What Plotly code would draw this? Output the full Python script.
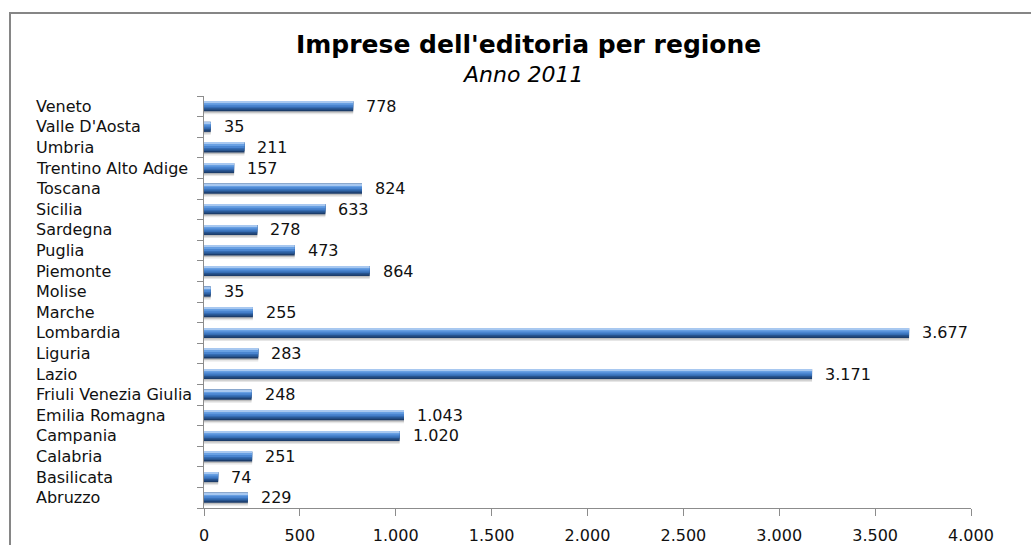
import plotly.graph_objects as go

# Imprese dell'editoria per regione, anno 2011
regioni = [
    "Abruzzo", "Basilicata", "Calabria", "Campania", "Emilia Romagna",
    "Friuli Venezia Giulia", "Lazio", "Liguria", "Lombardia", "Marche",
    "Molise", "Piemonte", "Puglia", "Sardegna", "Sicilia", "Toscana",
    "Trentino Alto Adige", "Umbria", "Valle D'Aosta", "Veneto",
]
imprese = [229, 74, 251, 1020, 1043, 248, 3171, 283, 3677, 255,
           35, 864, 473, 278, 633, 824, 157, 211, 35, 778]

x_ticks = [0, 500, 1000, 1500, 2000, 2500, 3000, 3500, 4000]

W, H = 1031, 545
M_L, M_R, M_T, M_B = 204, 60, 96, 37
plot_w = W - M_L - M_R
plot_h = H - M_T - M_B
slot_px = plot_h / len(regioni)


def band(top_px, bottom_px):
    """Offset/width (category units) for a stripe given in pixels below the bar centre."""
    return -bottom_px / slot_px, (bottom_px - top_px) / slot_px


# stripes of the cylinder-like bar, drawn back to front
layers = [
    (2.0, 8.0, "#e6e6e6"),
    (2.0, 6.5, "#bdbdbd"),
    (-5.0, 5.0, "#1c3d6b"),
    (-5.0, 3.5, "#27548f"),
    (-5.0, 2.0, "#356cb3"),
    (-4.5, 0.5, "#4a85d0"),
    (-3.5, -1.5, "#68a0e3"),
    (-5.0, -3.5, "#a8c8f0"),
]

fig = go.Figure()
for top_px, bottom_px, color in layers:
    off, wid = band(top_px, bottom_px)
    fig.add_trace(go.Bar(
        x=imprese, y=regioni, orientation="h",
        offset=off, width=wid,
        marker=dict(color=color, line=dict(width=0)),
        hoverinfo="skip", showlegend=False,
    ))

annotations = []
# value labels next to each bar
for reg, val in zip(regioni, imprese):
    annotations.append(dict(
        x=val, y=reg, xref="x", yref="y",
        text=f"{val:,}".replace(",", "."),
        showarrow=False, xanchor="left", yanchor="middle", xshift=11,
        font=dict(family="DejaVu Sans", size=16, color="#111111"),
    ))
# category labels
for reg in regioni:
    annotations.append(dict(
        x=(34 - M_L) / plot_w, y=reg, xref="paper", yref="y",
        text=reg, showarrow=False, xanchor="left", yanchor="middle",
        font=dict(family="DejaVu Sans", size=16, color="#111111"),
    ))
# title and subtitle
annotations.append(dict(
    x=(528 - M_L) / plot_w, y=(H - M_B - 44) / plot_h, xref="paper", yref="paper",
    text="<b>Imprese dell'editoria per regione</b>", showarrow=False,
    xanchor="center", yanchor="middle",
    font=dict(family="DejaVu Sans", size=25, color="#000000"),
))
annotations.append(dict(
    x=(522 - M_L) / plot_w, y=(H - M_B - 75) / plot_h, xref="paper", yref="paper",
    text="<i>Anno 2011</i>", showarrow=False,
    xanchor="center", yanchor="middle",
    font=dict(family="DejaVu Sans", size=22, color="#000000"),
))

fig.update_layout(
    width=W, height=H,
    margin=dict(l=M_L, r=M_R, t=M_T, b=M_B, pad=0, autoexpand=False),
    barmode="overlay",
    separators=",.",
    paper_bgcolor="white", plot_bgcolor="white",
    annotations=annotations,
    shapes=[dict(
        type="rect", xref="paper", yref="paper",
        x0=(10 - M_L) / plot_w, x1=(W + 20 - M_L) / plot_w,
        y0=(H - M_B - (H + 20)) / plot_h, y1=(H - M_B - 13) / plot_h,
        line=dict(color="#868686", width=2), fillcolor="rgba(0,0,0,0)",
        layer="below",
    )],
    xaxis=dict(
        range=[0, 4000], tickvals=x_ticks, tickformat=",d",
        showgrid=False, zeroline=False, automargin=False,
        showline=True, linecolor="#8c8c8c", linewidth=1,
        ticks="outside", ticklen=7, tickcolor="#8c8c8c",
        ticklabelstandoff=6,
        tickfont=dict(family="DejaVu Sans", size=16, color="#111111"),
    ),
    yaxis=dict(
        type="category", categoryorder="array", categoryarray=regioni,
        range=[-0.5, len(regioni) - 0.5],
        showgrid=False, zeroline=False, automargin=False,
        showline=True, linecolor="#8c8c8c", linewidth=1,
        ticks="outside", ticklen=6, tickcolor="#8c8c8c", tickson="boundaries",
        showticklabels=False,
    ),
)

fig.write_html("out.html")
